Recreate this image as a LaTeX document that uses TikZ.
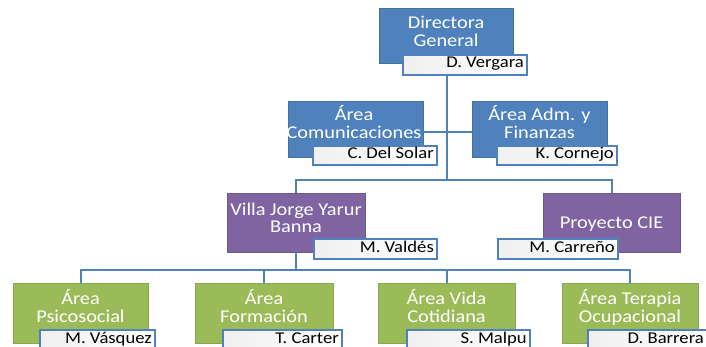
\documentclass[tikz,border=0pt]{standalone}
\usepackage{fontspec}
\setmainfont{Carlito}[FakeStretch=1.13]
\definecolor{oBlue}{HTML}{4F81BD}
\definecolor{oBlueD}{HTML}{45719F}
\definecolor{oPurple}{HTML}{8064A2}
\definecolor{oPurpleD}{HTML}{6F5890}
\definecolor{oGreen}{HTML}{9BBB59}
\definecolor{oGreenD}{HTML}{89A64E}
\definecolor{lineBlue}{HTML}{4F81BD}
\begin{document}
\begin{tikzpicture}[x=1pt,y=-1pt,
  unitbox/.style={anchor=north west, inner sep=0pt, outer sep=0pt, line width=0.8pt},
  bluebox/.style={unitbox, fill=oBlue, draw=oBlueD},
  purplebox/.style={unitbox, fill=oPurple, draw=oPurpleD},
  greenbox/.style={unitbox, fill=oGreen, draw=oGreenD},
  namebox/.style={unitbox, draw=oBlue, line width=1.2pt, left color=black!6, right color=white},
  mt/.style={anchor=base, inner sep=0pt, text=white, font=\fontsize{18}{18}\selectfont},
  nt/.style={anchor=base east, inner sep=0pt, text=black, font=\fontsize{16.5}{18}\selectfont, xshift=-3pt, yshift=-13pt},
  conn/.style={draw=lineBlue, line width=2pt}]
\useasboundingbox (0,0) rectangle (706,347);
\clip (0,0) rectangle (706,347);

% level 1
\node[bluebox, minimum width=134pt, minimum height=55pt] (dg) at (379,8) {};
\node[mt] (dgt1) at (446,29) {Directora};
\node[mt] (dgt2) at (446,47) {General};
\node[namebox, minimum width=124pt, minimum height=20pt] (dgn) at (403,55) {};
\node[nt] (dgnt) at (dgn.north east) {D. Vergara};

% level 2
\node[bluebox, minimum width=135pt, minimum height=56pt] (com) at (288,101) {};
\node[mt] (comt1) at (354,121) {Área};
\node[mt] (comt2) at (354,139) {Comunicaciones};
\node[namebox, minimum width=124pt, minimum height=19pt] (comn) at (313,146) {};
\node[nt] (comnt) at (comn.north east) {C. Del Solar};

\node[bluebox, minimum width=135pt, minimum height=56pt] (adm) at (472,101) {};
\node[mt] (admt1) at (539.5,121) {Área Adm. y};
\node[mt] (admt2) at (539.5,139) {Finanzas};
\node[namebox, minimum width=120pt, minimum height=19pt] (admn) at (497,146) {};
\node[nt] (admnt) at (admn.north east) {K. Cornejo};

% level 3
\node[purplebox, minimum width=138pt, minimum height=59pt] (vil) at (227,193) {};
\node[mt] (vilt1) at (296,216) {Villa Jorge Yarur};
\node[mt] (vilt2) at (296,233) {Banna};
\node[namebox, minimum width=123pt, minimum height=20pt] (viln) at (314,239) {};
\node[nt] (vilnt) at (viln.north east) {M. Valdés};

\node[purplebox, minimum width=137pt, minimum height=59pt] (pro) at (543,193) {};
\node[mt] (prot1) at (611.5,229) {Proyecto CIE};
\node[namebox, minimum width=120pt, minimum height=20pt] (pron) at (498,239) {};
\node[nt] (pronnt) at (pron.north east) {M. Carreño};

% level 4
\node[greenbox, minimum width=135pt, minimum height=60pt] (psi) at (13,283) {};
\node[mt] (psit1) at (80.5,304) {Área};
\node[mt] (psit2) at (80.5,322) {Psicosocial};
\node[namebox, minimum width=115pt, minimum height=24pt] (psin) at (40,330) {};
\node[nt] (psint) at (psin.north east) {M. Vásquez};

\node[greenbox, minimum width=138pt, minimum height=60pt] (frm) at (195,283) {};
\node[mt] (frmt1) at (264,304) {Área};
\node[mt] (frmt2) at (264,322) {Formación};
\node[namebox, minimum width=119pt, minimum height=24pt] (frmn) at (223,330) {};
\node[nt] (frmnt) at (frmn.north east) {T. Carter};

\node[greenbox, minimum width=137pt, minimum height=60pt] (vid) at (378,283) {};
\node[mt] (vidt1) at (446.5,304) {Área Vida};
\node[mt] (vidt2) at (446.5,322) {Cotidiana};
\node[namebox, minimum width=123pt, minimum height=24pt] (vidn) at (407,330) {};
\node[nt] (vidnt) at (vidn.north east) {S. Malpu};

\node[greenbox, minimum width=136pt, minimum height=60pt] (ter) at (562,283) {};
\node[mt] (tert1) at (630,304) {Área Terapia};
\node[mt] (tert2) at (630,322) {Ocupacional};
\node[namebox, minimum width=124pt, minimum height=24pt] (tern) at (588,330) {};
\node[nt, xshift=-5pt] (ternt) at (tern.north east) {D. Barrera};

% connectors
\coordinate (j1) at (447,132);
\coordinate (j2) at (447,180);
\coordinate (j3) at (296,270);
\draw[conn] (dgn.south -| j1) -- (j2);
\draw[conn] (com.east |- j1) -- (adm.west |- j1);
\draw[conn] (vil.north) -- (vil.north |- j2) -- (pro.north |- j2) -- (pro.north);
\draw[conn] (vil.south) -- (j3);
\draw[conn] (psi.north) -- (psi.north |- j3) -- (ter.north |- j3) -- (ter.north);
\draw[conn] (frm.north |- j3) -- (frm.north);
\draw[conn] (vid.north |- j3) -- (vid.north);
\end{tikzpicture}
\end{document}
